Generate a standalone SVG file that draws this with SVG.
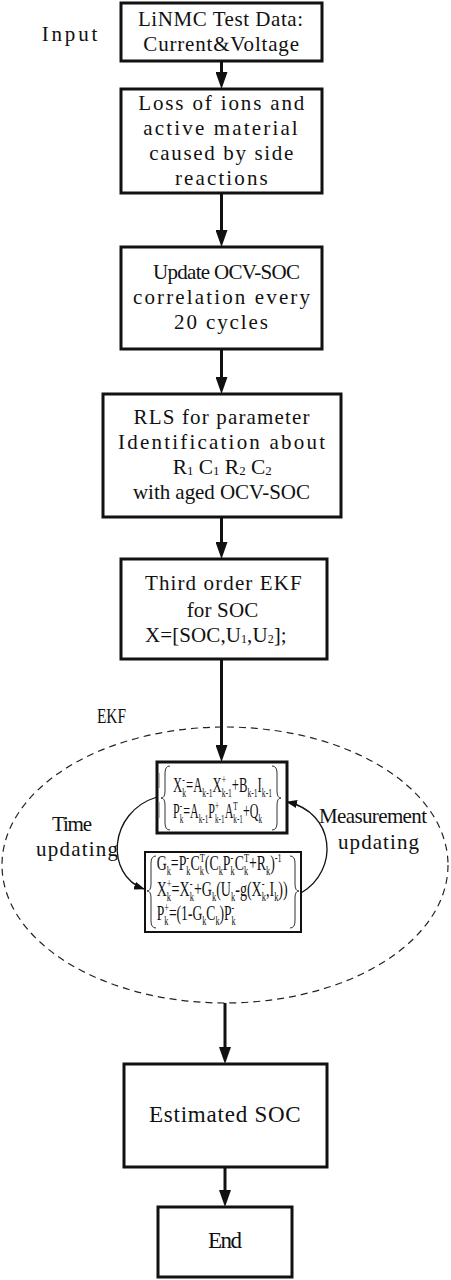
<svg xmlns="http://www.w3.org/2000/svg" width="451" height="1280" viewBox="0 0 451 1280">
<style>
.box{fill:#fff;stroke:#111;stroke-width:3}
.m{font-family:"Liberation Serif","Times New Roman",serif;font-size:21px;fill:#111}
.big{font-size:23px}
.eq{font-family:"Liberation Serif","Times New Roman",serif;font-size:20px;fill:#111}
.sb{font-size:12px}
.sr{font-family:"Liberation Serif","Times New Roman",serif;font-size:20px;fill:#111}
.sn{font-size:12px}
.conn{stroke:#111;stroke-width:3;fill:none}
.arc{stroke:#111;stroke-width:1.3;fill:none}
.brace{stroke:#333;stroke-width:1;fill:none}
</style>
<defs>
<marker id="ah" markerUnits="userSpaceOnUse" viewBox="0 0 17 12" markerWidth="17" markerHeight="12" refX="9" refY="6" orient="auto">
<path d="M0,0 L17,6 L0,12 z" fill="#111"/>
</marker>
<marker id="ahs" markerUnits="userSpaceOnUse" viewBox="0 0 11 8" markerWidth="11" markerHeight="8" refX="10" refY="4" orient="auto">
<path d="M0,0 L11,4 L0,8 z" fill="#111"/>
</marker>
</defs>
<rect width="451" height="1280" fill="#fff"/>

<g id="ekf-region">
<ellipse cx="225" cy="865" rx="223" ry="138" fill="none" stroke="#222" stroke-width="1.2" stroke-dasharray="7 5"/>
</g>

<g id="connectors">
<line class="conn" x1="221.5" y1="61" x2="221.5" y2="81" marker-end="url(#ah)"/>
<line class="conn" x1="221.5" y1="193" x2="221.5" y2="239" marker-end="url(#ah)"/>
<line class="conn" x1="221.5" y1="349" x2="221.5" y2="386" marker-end="url(#ah)"/>
<line class="conn" x1="221.5" y1="517" x2="221.5" y2="551" marker-end="url(#ah)"/>
<line class="conn" x1="221.5" y1="659" x2="221.5" y2="754" marker-end="url(#ah)"/>
<line class="conn" x1="225" y1="1003" x2="225" y2="1056" marker-end="url(#ah)"/>
<line class="conn" x1="225" y1="1167" x2="225" y2="1199" marker-end="url(#ah)"/>
<path class="arc" d="M157,797 C108,812 105,875 144,889" marker-end="url(#ahs)"/>
<path class="arc" d="M301,893 C340,870 335,812 287,802" marker-end="url(#ahs)"/>
</g>

<g id="labels">
<text class="m" x="41.7" y="41" textLength="55.6" lengthAdjust="spacing">Input</text>
<text class="sr" x="97" y="723" textLength="29" lengthAdjust="spacingAndGlyphs">EKF</text>
<text class="m" x="52" y="830.5" textLength="40" lengthAdjust="spacing">Time</text>
<text class="m" x="36" y="856" textLength="82" lengthAdjust="spacing">updating</text>
<text class="m" x="319" y="823" textLength="108" lengthAdjust="spacing">Measurement</text>
<text class="m" x="338" y="848.5" textLength="81" lengthAdjust="spacing">updating</text>
</g>

<g id="n-input">
<rect class="box" x="121" y="3" width="201" height="58"/>
<text class="m" x="138" y="26" textLength="165" lengthAdjust="spacing">LiNMC Test Data:</text>
<text class="m" x="143.3" y="51" textLength="155.7" lengthAdjust="spacing">Current&amp;Voltage</text>
</g>

<g id="n-loss">
<rect class="box" x="121" y="89" width="201" height="104"/>
<text class="m" x="138.3" y="110" textLength="166" lengthAdjust="spacing">Loss of ions and</text>
<text class="m" x="143.3" y="135" textLength="154.4" lengthAdjust="spacing">active material</text>
<text class="m" x="149.3" y="160" textLength="144" lengthAdjust="spacing">caused by side</text>
<text class="m" x="175" y="185" textLength="92.7" lengthAdjust="spacing">reactions</text>
</g>

<g id="n-update">
<rect class="box" x="121" y="247" width="201" height="102"/>
<text class="m" x="153" y="279" textLength="147" lengthAdjust="spacing">Update OCV-SOC</text>
<text class="m" x="133" y="304" textLength="177" lengthAdjust="spacing">correlation every</text>
<text class="m" x="174" y="329" textLength="94" lengthAdjust="spacing">20 cycles</text>
</g>

<g id="n-rls">
<rect class="box" x="103" y="394" width="238" height="123"/>
<text class="m" x="133.5" y="424" textLength="176" lengthAdjust="spacing">RLS for parameter</text>
<text class="m" x="118" y="449" textLength="207" lengthAdjust="spacing">Identification about</text>
<text class="sr" x="172.7" y="474" textLength="99" lengthAdjust="spacingAndGlyphs">R<tspan class="sn" dy="1">1</tspan><tspan dy="-1">  C</tspan><tspan class="sn" dy="1">1</tspan><tspan dy="-1">  R</tspan><tspan class="sn" dy="1">2</tspan><tspan dy="-1">  C</tspan><tspan class="sn" dy="1">2</tspan></text>
<text class="m" x="133" y="499" textLength="177" lengthAdjust="spacing">with aged OCV-SOC</text>
</g>

<g id="n-ekf3">
<rect class="box" x="121" y="559" width="206" height="100"/>
<text class="m" x="145" y="590" textLength="156.7" lengthAdjust="spacing">Third order EKF</text>
<text class="m" x="186.7" y="616.5" textLength="71.6" lengthAdjust="spacing">for SOC</text>
<text class="m" x="145" y="642" textLength="141.7" lengthAdjust="spacing">X=[SOC,U<tspan class="sn" dy="1">1</tspan><tspan dy="-1">,U</tspan><tspan class="sn" dy="1">2</tspan><tspan dy="-1">];</tspan></text>
</g>

<g id="n-predict">
<rect class="box" x="157" y="762" width="130" height="71"/>
<path class="brace" d="M170,766 Q165,766 165,773 L165,791 Q165,798 161,798 Q165,798 165,805 L165,823 Q165,830 170,830"/>
<path class="brace" d="M272,766 Q277,766 277,773 L277,791 Q277,798 281,798 Q277,798 277,805 L277,823 Q277,830 272,830"/>
<path d="M159,773 L159,788 M159,802 L159,818" stroke="#777" stroke-width="1" fill="none"/>
<text class="eq" x="173" y="792" textLength="99" lengthAdjust="spacingAndGlyphs">X<tspan class="sb" dy="5">k</tspan><tspan class="sb" dx="-6" dy="-13">-</tspan><tspan dy="8" dx="2">=A</tspan><tspan class="sb" dy="5">k-1</tspan><tspan dy="-5">X</tspan><tspan class="sb" dy="5">k-1</tspan><tspan class="sb" dx="-16" dy="-13">+</tspan><tspan dy="8" dx="9.2">+B</tspan><tspan class="sb" dy="5">k-1</tspan><tspan dy="-5">I</tspan><tspan class="sb" dy="5">k-1</tspan></text>
<text class="eq" x="173" y="818" textLength="89" lengthAdjust="spacingAndGlyphs">P<tspan class="sb" dy="5">k</tspan><tspan class="sb" dx="-6" dy="-13">-</tspan><tspan dy="8" dx="2">=A</tspan><tspan class="sb" dy="5">k-1</tspan><tspan dy="-5">P</tspan><tspan class="sb" dy="5">k-1</tspan><tspan class="sb" dx="-16" dy="-13">+</tspan><tspan dy="8" dx="9.2">A</tspan><tspan class="sb" dy="5">k-1</tspan><tspan class="sb" dx="-16" dy="-13">T</tspan><tspan dy="8" dx="8.7">+Q</tspan><tspan class="sb" dy="5">k</tspan></text>
</g>

<g id="n-correct">
<rect x="145" y="852" width="156" height="80" fill="#fff" stroke="#111" stroke-width="2"/>
<path class="brace" d="M156,856 Q151,856 151,863 L151,884 Q151,891 147,891 Q151,891 151,898 L151,921 Q151,928 156,928"/>
<path class="brace" d="M290,856 Q295,856 295,863 L295,884 Q295,891 299,891 Q295,891 295,898 L295,921 Q295,928 290,928"/>
<text class="eq" x="156.7" y="870" textLength="125" lengthAdjust="spacingAndGlyphs">G<tspan class="sb" dy="5">k</tspan><tspan dy="-5">=P</tspan><tspan class="sb" dy="5">k</tspan><tspan class="sb" dx="-6" dy="-13">-</tspan><tspan dy="8" dx="2">C</tspan><tspan class="sb" dy="5">k</tspan><tspan class="sb" dx="-6" dy="-13">T</tspan><tspan dy="8">(C</tspan><tspan class="sb" dy="5">k</tspan><tspan dy="-5">P</tspan><tspan class="sb" dy="5">k</tspan><tspan class="sb" dx="-6" dy="-13">-</tspan><tspan dy="8" dx="2">C</tspan><tspan class="sb" dy="5">k</tspan><tspan class="sb" dx="-6" dy="-13">T</tspan><tspan dy="8">+R</tspan><tspan class="sb" dy="5">k</tspan><tspan dy="-5">)</tspan><tspan class="sb" dy="-8">-1</tspan></text>
<text class="eq" x="156.7" y="896" textLength="131" lengthAdjust="spacingAndGlyphs">X<tspan class="sb" dy="5">k</tspan><tspan class="sb" dx="-6" dy="-13">+</tspan><tspan dy="8">=X</tspan><tspan class="sb" dy="5">k</tspan><tspan class="sb" dx="-6" dy="-13">-</tspan><tspan dy="8" dx="2">+G</tspan><tspan class="sb" dy="5">k</tspan><tspan dy="-5">(U</tspan><tspan class="sb" dy="5">k</tspan><tspan dy="-5">-g(X</tspan><tspan class="sb" dy="5">k</tspan><tspan class="sb" dx="-6" dy="-13">-</tspan><tspan dy="8" dx="2">,I</tspan><tspan class="sb" dy="5">k</tspan><tspan dy="-5">))</tspan></text>
<text class="eq" x="156.7" y="920" textLength="79" lengthAdjust="spacingAndGlyphs">P<tspan class="sb" dy="5">k</tspan><tspan class="sb" dx="-6" dy="-13">+</tspan><tspan dy="8">=(1-G</tspan><tspan class="sb" dy="5">k</tspan><tspan dy="-5">C</tspan><tspan class="sb" dy="5">k</tspan><tspan dy="-5">)P</tspan><tspan class="sb" dy="5">k</tspan><tspan class="sb" dx="-6" dy="-13">-</tspan></text>
</g>

<g id="n-estimated">
<rect class="box" x="124" y="1064" width="203" height="103"/>
<text class="m big" x="149" y="1121.7" textLength="151.7" lengthAdjust="spacing">Estimated SOC</text>
</g>

<g id="n-end">
<rect class="box" x="158" y="1207" width="134" height="70"/>
<text class="m big" x="208" y="1248" textLength="34" lengthAdjust="spacing">End</text>
</g>
</svg>
